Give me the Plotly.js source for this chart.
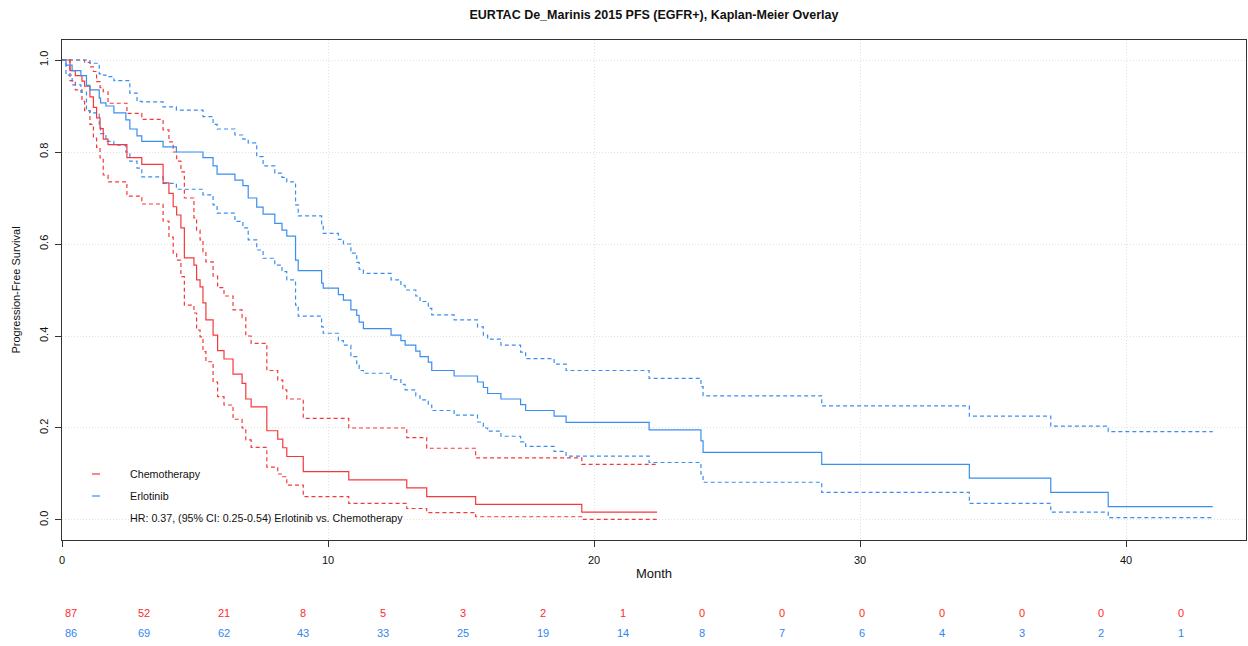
<!DOCTYPE html>
<html>
<head>
<meta charset="utf-8">
<script src="https://cdn.plot.ly/plotly-3.0.1.min.js"></script>
<style>
html,body{margin:0;padding:0;background:#fff;}
#chart{width:1248px;height:646px;}
</style>
</head>
<body>
<div id="chart"></div>
<script>
// ---- Chemotherapy arm (KM estimate and 95% CI) ----
const chemoTime  = [0, 0.3, 0.5, 0.75, 0.85, 1.05, 1.18, 1.3, 1.43, 1.55, 1.73, 2.44, 3.0, 3.8, 4.02, 4.18, 4.31, 4.47, 4.6, 4.96, 5.06, 5.19, 5.3, 5.41, 5.68, 5.85, 6.09, 6.43, 6.77, 6.91, 7.11, 7.7, 8.11, 8.3, 8.45, 9.07, 10.78, 12.96, 13.71, 15.55, 19.54, 22.37];
const chemoSurv  = [1, 0.977, 0.966, 0.954, 0.943, 0.92, 0.897, 0.874, 0.851, 0.828, 0.816, 0.788, 0.773, 0.733, 0.71, 0.681, 0.663, 0.635, 0.57, 0.554, 0.522, 0.507, 0.472, 0.435, 0.402, 0.368, 0.35, 0.317, 0.297, 0.263, 0.246, 0.194, 0.176, 0.157, 0.138, 0.105, 0.087, 0.07, 0.051, 0.034, 0.017, 0.017];
const chemoLower = [1, 0.955, 0.935, 0.91, 0.89, 0.86, 0.83, 0.81, 0.787, 0.75, 0.735, 0.704, 0.687, 0.65, 0.615, 0.58, 0.565, 0.529, 0.467, 0.45, 0.413, 0.398, 0.366, 0.344, 0.30, 0.268, 0.25, 0.219, 0.20, 0.174, 0.158, 0.115, 0.10, 0.094, 0.076, 0.051, 0.036, 0.025, 0.016, 0.007, 0.0015, 0.0015];
const chemoUpper = [1, 1, 1, 1, 0.995, 0.985, 0.975, 0.953, 0.94, 0.931, 0.906, 0.884, 0.871, 0.848, 0.822, 0.80, 0.78, 0.757, 0.70, 0.657, 0.63, 0.609, 0.583, 0.561, 0.53, 0.505, 0.487, 0.457, 0.44, 0.40, 0.384, 0.325, 0.304, 0.283, 0.263, 0.221, 0.2, 0.179, 0.156, 0.135, 0.121, 0.121];

// ---- Erlotinib arm (KM estimate and 95% CI) ----
const erloTime  = [0, 0.15, 0.38, 0.71, 0.92, 1.05, 1.4, 1.45, 1.65, 1.95, 2.4, 2.55, 2.82, 3.0, 3.8, 4.3, 5.3, 5.68, 5.83, 6.5, 6.8, 7.0, 7.32, 7.56, 8.0, 8.27, 8.45, 8.78, 8.88, 9.76, 9.82, 10.39, 10.58, 10.86, 11.08, 11.17, 11.33, 12.37, 12.74, 12.9, 13.3, 13.46, 13.77, 13.9, 14.74, 15.62, 15.84, 16.0, 16.5, 17.24, 17.43, 18.5, 18.95, 22.07, 24.02, 24.1, 28.56, 34.11, 37.17, 39.33, 43.26];
const erloSurv  = [1, 0.989, 0.977, 0.966, 0.945, 0.935, 0.917, 0.907, 0.9, 0.885, 0.87, 0.85, 0.835, 0.823, 0.811, 0.8, 0.788, 0.77, 0.752, 0.739, 0.727, 0.70, 0.68, 0.665, 0.645, 0.63, 0.617, 0.565, 0.542, 0.515, 0.504, 0.49, 0.478, 0.457, 0.445, 0.43, 0.416, 0.402, 0.39, 0.38, 0.367, 0.355, 0.343, 0.325, 0.313, 0.30, 0.288, 0.275, 0.263, 0.251, 0.238, 0.226, 0.212, 0.196, 0.172, 0.147, 0.121, 0.091, 0.06, 0.029, 0.029];
const erloUpper = [1, 1, 1, 1, 1, 0.993, 0.97, 0.967, 0.964, 0.955, 0.955, 0.928, 0.91, 0.909, 0.898, 0.891, 0.877, 0.86, 0.85, 0.837, 0.828, 0.82, 0.79, 0.77, 0.754, 0.745, 0.735, 0.685, 0.661, 0.64, 0.623, 0.61, 0.60, 0.58, 0.56, 0.545, 0.536, 0.522, 0.51, 0.50, 0.487, 0.475, 0.46, 0.446, 0.435, 0.42, 0.402, 0.393, 0.38, 0.365, 0.351, 0.339, 0.325, 0.308, 0.29, 0.27, 0.248, 0.226, 0.204, 0.192, 0.192];
const erloLower = [1, 0.967, 0.946, 0.93, 0.89, 0.885, 0.86, 0.84, 0.823, 0.815, 0.80, 0.78, 0.765, 0.746, 0.732, 0.719, 0.707, 0.685, 0.667, 0.649, 0.635, 0.609, 0.587, 0.569, 0.554, 0.54, 0.522, 0.467, 0.443, 0.42, 0.406, 0.39, 0.38, 0.355, 0.337, 0.325, 0.319, 0.305, 0.295, 0.283, 0.27, 0.261, 0.25, 0.238, 0.228, 0.213, 0.2, 0.193, 0.182, 0.17, 0.16, 0.149, 0.139, 0.125, 0.10, 0.082, 0.06, 0.036, 0.017, 0.005, 0.005];

// ---- Numbers at risk ----
const riskTimes = [0, 3, 6, 9, 12, 15, 18, 21, 24, 27, 30, 33, 36, 39, 42];
const riskChemo = [87, 52, 21, 8, 5, 3, 2, 1, 0, 0, 0, 0, 0, 0, 0];
const riskErlo  = [86, 69, 62, 43, 33, 25, 19, 14, 8, 7, 6, 4, 3, 2, 1];

const armNames = ['Chemotherapy', 'Erlotinib'];
const hrText = 'HR: 0.37, (95% CI: 0.25-0.54) Erlotinib vs. Chemotherapy';
const yTicks = [0, 0.2, 0.4, 0.6, 0.8, 1.0];
const xTicks = [0, 10, 20, 30, 40];

const RED = '#f5393b';
const BLUE = '#3a8ef2';
const RED_TXT = '#ff2a2a';
const BLUE_TXT = '#2f86ee';
const FONT = 'Liberation Sans, Arial, Helvetica, sans-serif';
const DASH = '4px,3px';

function stepTrace(x, y, color, dashed) {
  return {
    x: x, y: y, type: 'scatter', mode: 'lines',
    line: {shape: 'hv', color: color, width: 1.2, dash: dashed ? DASH : 'solid'},
    showlegend: false, hoverinfo: 'skip'
  };
}

const data = [
  stepTrace(chemoTime, chemoUpper, RED, true),
  stepTrace(chemoTime, chemoLower, RED, true),
  stepTrace(erloTime, erloUpper, BLUE, true),
  stepTrace(erloTime, erloLower, BLUE, true),
  stepTrace(chemoTime, chemoSurv, RED, false),
  stepTrace(erloTime, erloSurv, BLUE, false)
];

const annotations = [];
riskTimes.forEach((t, i) => {
  annotations.push({x: t, xref: 'x', y: -0.145, yref: 'paper', text: String(riskChemo[i]),
    showarrow: false, xanchor: 'center', yanchor: 'middle', xshift: i === 0 ? 9 : 2,
    font: {family: FONT, size: 11, color: RED_TXT}});
  annotations.push({x: t, xref: 'x', y: -0.186, yref: 'paper', text: String(riskErlo[i]),
    showarrow: false, xanchor: 'center', yanchor: 'middle', xshift: i === 0 ? 9 : 2,
    font: {family: FONT, size: 11, color: BLUE_TXT}});
});
// legend text
annotations.push({x: 0.0557, xref: 'paper', y: 0.132, yref: 'paper', text: armNames[0], showarrow: false,
  xanchor: 'left', yanchor: 'middle', font: {family: FONT, size: 10.7, color: '#111'}});
annotations.push({x: 0.0557, xref: 'paper', y: 0.088, yref: 'paper', text: armNames[1], showarrow: false,
  xanchor: 'left', yanchor: 'middle', font: {family: FONT, size: 10.7, color: '#111'}});
annotations.push({x: 0.0557, xref: 'paper', y: 0.044, yref: 'paper', text: hrText, showarrow: false,
  xanchor: 'left', yanchor: 'middle', font: {family: FONT, size: 10.7, color: '#111'}});

const shapes = [
  {type: 'line', xref: 'paper', yref: 'paper', x0: 0.0253, x1: 0.0321, y0: 0.132, y1: 0.132, line: {color: RED, width: 1.2}},
  {type: 'line', xref: 'paper', yref: 'paper', x0: 0.0253, x1: 0.0321, y0: 0.088, y1: 0.088, line: {color: BLUE, width: 1.2}}
];

const layout = {
  width: 1248, height: 646,
  margin: {l: 62, r: 2, t: 40, b: 106},
  paper_bgcolor: '#ffffff', plot_bgcolor: '#ffffff',
  font: {family: FONT, size: 11, color: '#111'},
  title: {text: '<b>EURTAC De_Marinis 2015 PFS (EGFR+), Kaplan-Meier Overlay</b>',
    x: 0.5, xref: 'paper', xanchor: 'center', y: 0.977, yref: 'container', yanchor: 'middle',
    font: {family: FONT, size: 12.5, color: '#111'}},
  xaxis: {
    range: [0, 44.51], tickvals: xTicks, ticktext: xTicks.map(String),
    ticks: 'outside', ticklen: 6, tickcolor: '#333', tickwidth: 1, ticklabelstandoff: 4,
    showline: true, mirror: true, linecolor: '#333', linewidth: 1,
    showgrid: true, gridcolor: '#e2e2e2', griddash: '1px,2px', gridwidth: 1, zeroline: false,
    tickfont: {family: FONT, size: 11, color: '#111'},
    title: {text: 'Month', font: {family: FONT, size: 13, color: '#111'}, standoff: 3}
  },
  yaxis: {
    range: [-0.0435, 1.0435], tickvals: yTicks, ticktext: yTicks.map(v => v.toFixed(1)),
    tickangle: -90,
    ticks: 'outside', ticklen: 6, tickcolor: '#333', tickwidth: 1, ticklabelstandoff: 3,
    showline: true, mirror: true, linecolor: '#333', linewidth: 1,
    showgrid: true, gridcolor: '#e2e2e2', griddash: '1px,2px', gridwidth: 1, zeroline: false,
    tickfont: {family: FONT, size: 11, color: '#111'},
    title: {text: 'Progression-Free Survival', font: {family: FONT, size: 11, color: '#111'}, standoff: 14}
  },
  annotations: annotations,
  shapes: shapes
};

Plotly.newPlot('chart', data, layout, {displayModeBar: false, staticPlot: true});
</script>
</body>
</html>
